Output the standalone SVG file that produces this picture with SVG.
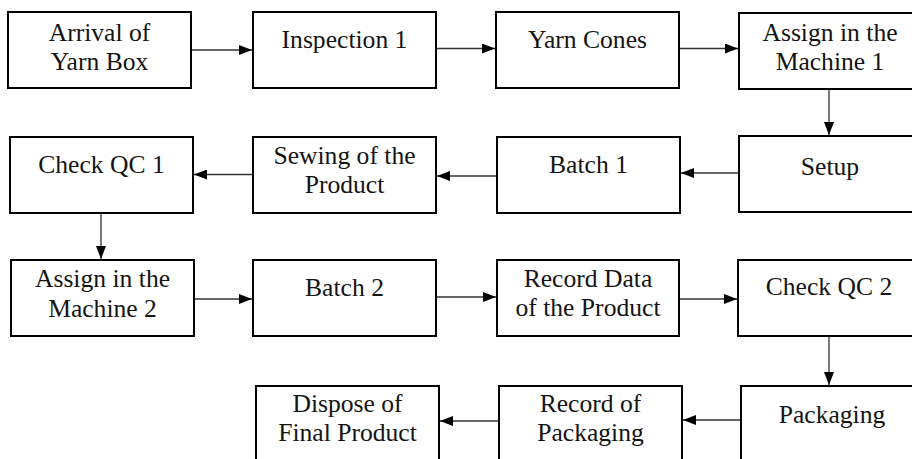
<svg xmlns="http://www.w3.org/2000/svg" width="912" height="459" viewBox="0 0 912 459">
  <defs>
    <marker id="arrow" viewBox="0 0 13 10" refX="13" refY="5" markerWidth="13" markerHeight="10" markerUnits="userSpaceOnUse" orient="auto">
      <path d="M0,0 L13,5 L0,10 Z" fill="#000"/>
    </marker>
    <style>
      .box { fill: #fff; stroke: #000; stroke-width: 2; }
      .lbl { font-family: 'Liberation Serif', 'Times New Roman', 'DejaVu Serif', serif; font-size: 25.6px; fill: #141414; text-anchor: middle; }
      .edge { stroke: #333; stroke-width: 1.3; fill: none; marker-end: url(#arrow); }
    </style>
  </defs>
  <rect width="912" height="459" fill="#fff"/>

  <!-- process steps -->
  <g id="arrival">
    <rect class="box" x="8" y="12" width="183" height="76"/>
    <text class="lbl" x="99.5" y="41">Arrival of</text>
    <text class="lbl" x="99.5" y="70">Yarn Box</text>
  </g>
  <g id="inspection1">
    <rect class="box" x="253" y="12" width="183" height="76"/>
    <text class="lbl" x="344.5" y="48">Inspection 1</text>
  </g>
  <g id="yarn-cones">
    <rect class="box" x="496" y="12" width="183" height="76"/>
    <text class="lbl" x="587.5" y="48">Yarn Cones</text>
  </g>
  <g id="assign-machine1">
    <rect class="box" x="739" y="13" width="183" height="76"/>
    <text class="lbl" x="830" y="41">Assign in the</text>
    <text class="lbl" x="830" y="70">Machine 1</text>
  </g>

  <g id="setup">
    <rect class="box" x="739" y="136" width="183" height="76"/>
    <text class="lbl" x="830" y="175">Setup</text>
  </g>
  <g id="batch1">
    <rect class="box" x="497" y="137" width="183" height="76"/>
    <text class="lbl" x="588.5" y="173">Batch 1</text>
  </g>
  <g id="sewing">
    <rect class="box" x="253" y="137" width="183" height="76"/>
    <text class="lbl" x="344.5" y="164">Sewing of the</text>
    <text class="lbl" x="344.5" y="193">Product</text>
  </g>
  <g id="check-qc1">
    <rect class="box" x="10" y="137" width="183" height="76"/>
    <text class="lbl" x="101.5" y="173">Check QC 1</text>
  </g>

  <g id="assign-machine2">
    <rect class="box" x="11" y="260" width="183" height="76"/>
    <text class="lbl" x="102.5" y="287">Assign in the</text>
    <text class="lbl" x="102.5" y="317">Machine 2</text>
  </g>
  <g id="batch2">
    <rect class="box" x="253" y="260" width="183" height="76"/>
    <text class="lbl" x="344.5" y="296">Batch 2</text>
  </g>
  <g id="record-data">
    <rect class="box" x="497" y="260" width="182" height="76"/>
    <text class="lbl" x="588" y="287">Record Data</text>
    <text class="lbl" x="588" y="316">of the Product</text>
  </g>
  <g id="check-qc2">
    <rect class="box" x="738" y="260" width="183" height="76"/>
    <text class="lbl" x="829" y="295">Check QC 2</text>
  </g>

  <g id="packaging">
    <rect class="box" x="741" y="386" width="183" height="78"/>
    <text class="lbl" x="832" y="423">Packaging</text>
  </g>
  <g id="record-packaging">
    <rect class="box" x="499" y="386" width="183" height="78"/>
    <text class="lbl" x="590.5" y="412">Record of</text>
    <text class="lbl" x="590.5" y="441">Packaging</text>
  </g>
  <g id="dispose">
    <rect class="box" x="256" y="386" width="183" height="78"/>
    <text class="lbl" x="347.5" y="412">Dispose of</text>
    <text class="lbl" x="347.5" y="441">Final Product</text>
  </g>

  <!-- connectors -->
  <g id="connectors">
    <line class="edge" x1="192" y1="50" x2="252" y2="50"/>
    <line class="edge" x1="437" y1="48.5" x2="495" y2="48.5"/>
    <line class="edge" x1="680" y1="48.5" x2="738" y2="48.5"/>
    <line class="edge" x1="829" y1="90" x2="829" y2="135"/>
    <line class="edge" x1="738" y1="173" x2="681" y2="173"/>
    <line class="edge" x1="496" y1="176" x2="437" y2="176"/>
    <line class="edge" x1="252" y1="174.5" x2="194" y2="174.5"/>
    <line class="edge" x1="101" y1="214" x2="101" y2="259"/>
    <line class="edge" x1="195" y1="299" x2="252" y2="299"/>
    <line class="edge" x1="437" y1="297" x2="496" y2="297"/>
    <line class="edge" x1="680" y1="299" x2="737" y2="299"/>
    <line class="edge" x1="829" y1="337" x2="829" y2="385"/>
    <line class="edge" x1="740" y1="420" x2="683" y2="420"/>
    <line class="edge" x1="498" y1="421" x2="440" y2="421"/>
  </g>
</svg>
